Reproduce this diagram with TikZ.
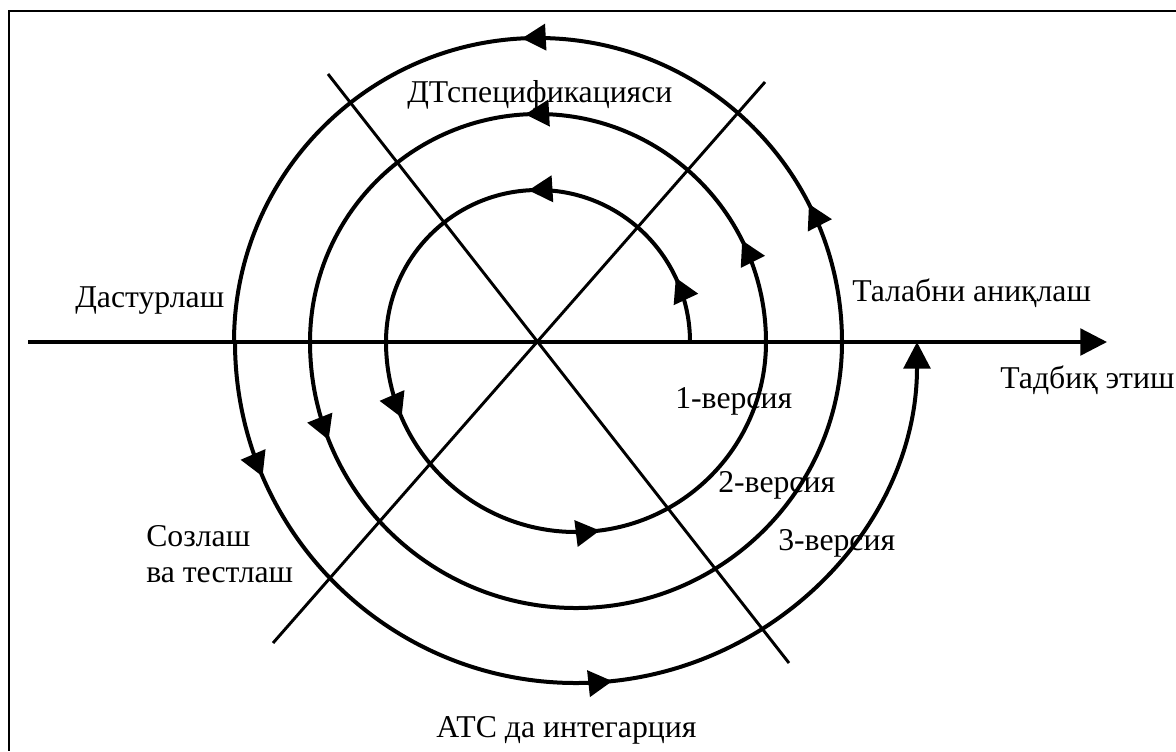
\documentclass[tikz,border=0pt]{standalone}
\usepackage{fontspec}
\setmainfont{Liberation Serif}
\usetikzlibrary{arrows.meta,decorations.markings}
\tikzset{
  spir/.style={line width=3pt},
  axisline/.style={line width=2.5pt},
  diag/.style={line width=2.2pt},
  frame/.style={line width=2pt},
  lbl/.style={font=\fontsize{23.8pt}{27pt}\selectfont, inner sep=0pt, anchor=base west},
  midarr/.style={postaction={decorate,decoration={markings,
      mark=at position #1 with {\arrow{Triangle[length=18pt,width=19.5pt]}}}}},
  endtip/.style={-{Triangle[length=20pt,width=20pt]}}
}
\begin{document}
\begin{tikzpicture}[x=0.75pt,y=0.75pt]
\useasboundingbox (0,0) rectangle (1176,-751);
% frame (top and left edges visible)
\coordinate (fTL) at (9,-11);
\coordinate (fTR) at (1176,-11);
\coordinate (fBL) at (9,-751);
\draw[frame] (fTR) -- (fTL) -- (fBL);

% centres
\coordinate (U) at (538,-342);
\coordinate (L) at (576,-342);

% axis
\coordinate (axL) at (28,-342);
\coordinate (axR) at (1107,-342);
\draw[axisline,endtip] (axL) -- (axR);

% diagonals
\coordinate (d1a) at (328,-74);
\coordinate (d1b) at (789,-663);
\coordinate (d2a) at (765,-82);
\coordinate (d2b) at (273,-643);
\draw[diag] (d1a) -- (d1b);
\draw[diag] (d2a) -- (d2b);

% spiral: upper half-circles centred at U, lower half-circles centred at L
\draw[spir,midarr=0.139,midarr=0.52] (690,-342) arc[start angle=0,end angle=180,radius=152];
\draw[spir,midarr=0.13,midarr=0.54] (386,-342) arc[start angle=180,end angle=360,radius=190];
\draw[spir,midarr=0.147,midarr=0.518] (766,-342) arc[start angle=0,end angle=180,radius=228];
\draw[spir,midarr=0.12] (310,-342) arc[start angle=180,end angle=360,radius=266];
\draw[spir,midarr=0.15,midarr=0.517] (842,-342) arc[start angle=0,end angle=180,radius=304];
\draw[spir,midarr=0.129,midarr=0.534,endtip] (235,-342) arc[start angle=180,end angle=360,radius=341];

% labels
\node[lbl] (spec) at (407,-102) {ДТспецификацияси};
\node[lbl] (dast) at (75,-307) {Дастурлаш};
\node[lbl] (talab) at (852,-301) {Талабни аниқлаш};
\node[lbl] (tadbiq) at (1000,-388) {Тадбиқ этиш};
\node[lbl] (v1) at (675,-408) {1-версия};
\node[lbl] (v2) at (718,-492) {2-версия};
\node[lbl] (v3) at (778,-550) {3-версия};
\node[lbl] (sozlash) at (146,-546) {Созлаш};
\node[lbl] (test) at (146,-582) {ва тестлаш};
\node[lbl] (ats) at (436,-737) {АТС да интегарция};
\end{tikzpicture}
\end{document}
